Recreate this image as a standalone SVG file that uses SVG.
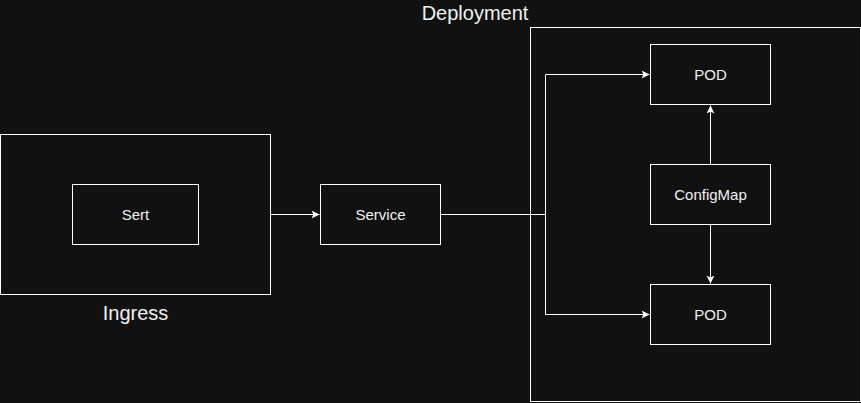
<svg xmlns="http://www.w3.org/2000/svg" width="861" height="403" viewBox="0 0 861 403">
<style>
.box{fill:#111111;stroke:#ffffff;stroke-width:1}
.lbl{font-family:"Liberation Sans",Arial,sans-serif;font-size:15px;fill:#f0f0f0;text-anchor:middle;dominant-baseline:central}
.big{font-family:"Liberation Sans",Arial,sans-serif;font-size:20px;fill:#f0f0f0;text-anchor:middle;dominant-baseline:central}
.edge{fill:none;stroke:#ffffff;stroke-width:1}
</style>
<defs>
<marker id="arr" markerWidth="10" markerHeight="10" refX="8" refY="4" orient="auto" markerUnits="userSpaceOnUse">
<path d="M0,0 L8,4 L0,8 L2,4 Z" fill="#ffffff"/>
</marker>
</defs>
<rect width="861" height="403" fill="#111111"/>
<g id="deployment">
<rect class="box" x="530.5" y="27.5" width="330" height="374"/>
<text class="big" x="475" y="13">Deployment</text>
</g>
<g id="ingress">
<rect class="box" x="0.5" y="134.5" width="270" height="160"/>
<text class="big" x="135.5" y="313">Ingress</text>
</g>
<g id="sert">
<rect class="box" x="72.5" y="184.5" width="126" height="60"/>
<text class="lbl" x="135.5" y="214.5">Sert</text>
</g>
<g id="service">
<rect class="box" x="320.5" y="184.5" width="120" height="60"/>
<text class="lbl" x="380.5" y="214.5">Service</text>
</g>
<g id="pod1">
<rect class="box" x="650.5" y="44.5" width="120" height="60"/>
<text class="lbl" x="710.5" y="74.5">POD</text>
</g>
<g id="configmap">
<rect class="box" x="650.5" y="164.5" width="120" height="60"/>
<text class="lbl" x="710.5" y="194.5">ConfigMap</text>
</g>
<g id="pod2">
<rect class="box" x="650.5" y="284.5" width="120" height="60"/>
<text class="lbl" x="710.5" y="314.5">POD</text>
</g>
<g id="connectors">
<path class="edge" d="M270.5,214.5 L319.5,214.5" marker-end="url(#arr)"/>
<path class="edge" d="M440.5,214.5 L545.5,214.5 L545.5,74.5 L649.5,74.5" marker-end="url(#arr)"/>
<path class="edge" d="M545.5,214.5 L545.5,314.5 L649.5,314.5" marker-end="url(#arr)"/>
<path class="edge" d="M710.5,164.5 L710.5,105.5" marker-end="url(#arr)"/>
<path class="edge" d="M710.5,224.5 L710.5,283.5" marker-end="url(#arr)"/>
</g>
</svg>
